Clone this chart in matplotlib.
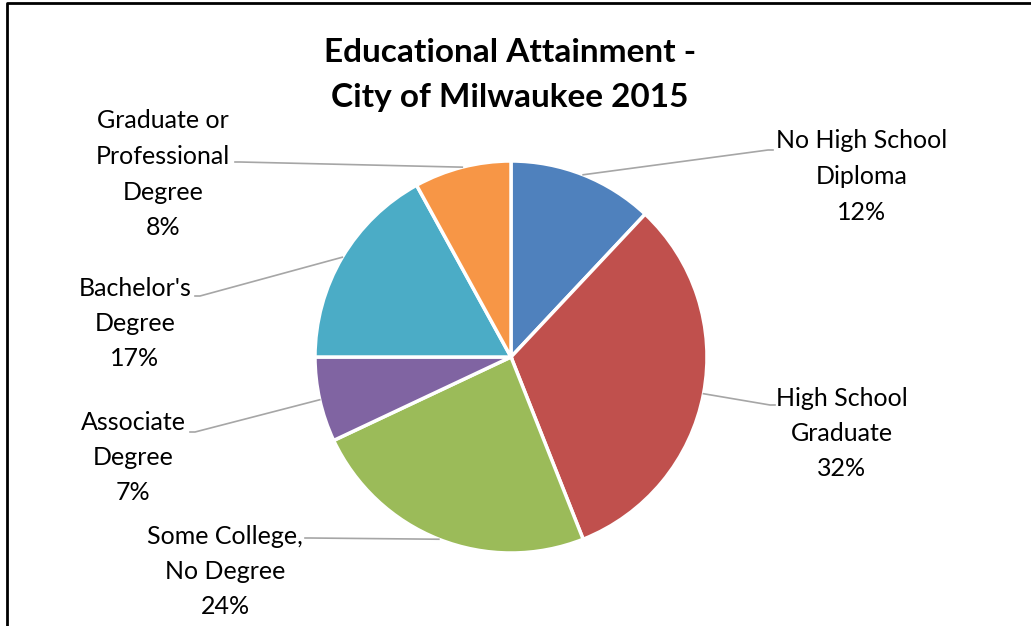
import numpy as np
import matplotlib
matplotlib.use("Agg")
import matplotlib.pyplot as plt

# educational attainment shares (%), clockwise from 12 o'clock
categories = ["No High School\nDiploma", "High School\nGraduate", "Some College,\nNo Degree",
              "Associate\nDegree", "Bachelor's\nDegree", "Graduate or\nProfessional\nDegree"]
shares = [12, 32, 24, 7, 17, 8]
colors = ["#4F81BD", "#C0504D", "#9BBB59", "#8064A2", "#4BACC6", "#F79646"]

# label placement (pixel coords, y down): text centre x, first line y, elbow point
label_pos = [(862, 141, 768, 150),
             (842, 398, 770, 405),
             (225, 536, 310, 538),
             (133, 422, 195, 432),
             (135, 288, 200, 296),
             (163, 121, 240, 162)]

W, H = 1031, 626
plt.rcParams["font.family"] = ["Lato", "DejaVu Sans"]
fig = plt.figure(figsize=(W / 100, H / 100), dpi=100)
ax = fig.add_axes([0, 0, 1, 1])

cx, cy, r = 511, 357, 196
# y axis is flipped, so counterclock from -90 reads clockwise from 12 o'clock on screen
ax.pie(shares, colors=colors, startangle=-90, counterclock=True,
       center=(cx, cy), radius=r,
       wedgeprops=dict(edgecolor="white", linewidth=2.5))
ax.set_xlim(0, W)
ax.set_ylim(H, 0)
ax.set_aspect("equal")
ax.axis("off")

fs = 18
cum = np.cumsum([0] + shares)
for i, (name, v) in enumerate(zip(categories, shares)):
    mid = (cum[i] + cum[i + 1]) / 2 / 100 * 2 * np.pi
    px = cx + r * np.sin(mid)
    py = cy - r * np.cos(mid)
    tx, ty, ex, ey = label_pos[i]
    side = 1 if ex > cx else -1
    ax.plot([px, ex, ex + side * 5], [py, ey, ey], color="#a6a6a6", lw=1.2)
    lines = name.split("\n") + [f"{v}%"]
    for k, ln in enumerate(lines):
        ax.text(tx, ty + k * 35.5, ln, ha="center", va="center", fontsize=fs, color="black")

ax.text(510, 52, "Educational Attainment -", ha="center", va="center",
        fontsize=24, fontweight="bold")
ax.text(510, 98, "City of Milwaukee 2015", ha="center", va="center",
        fontsize=24, fontweight="bold")

# chart frame (cropped on right/bottom)
ax.plot([7, 7, W + 5], [H + 5, 2.5, 2.5], color="black", lw=2, clip_on=False)

fig.savefig("out.png", dpi=100)
